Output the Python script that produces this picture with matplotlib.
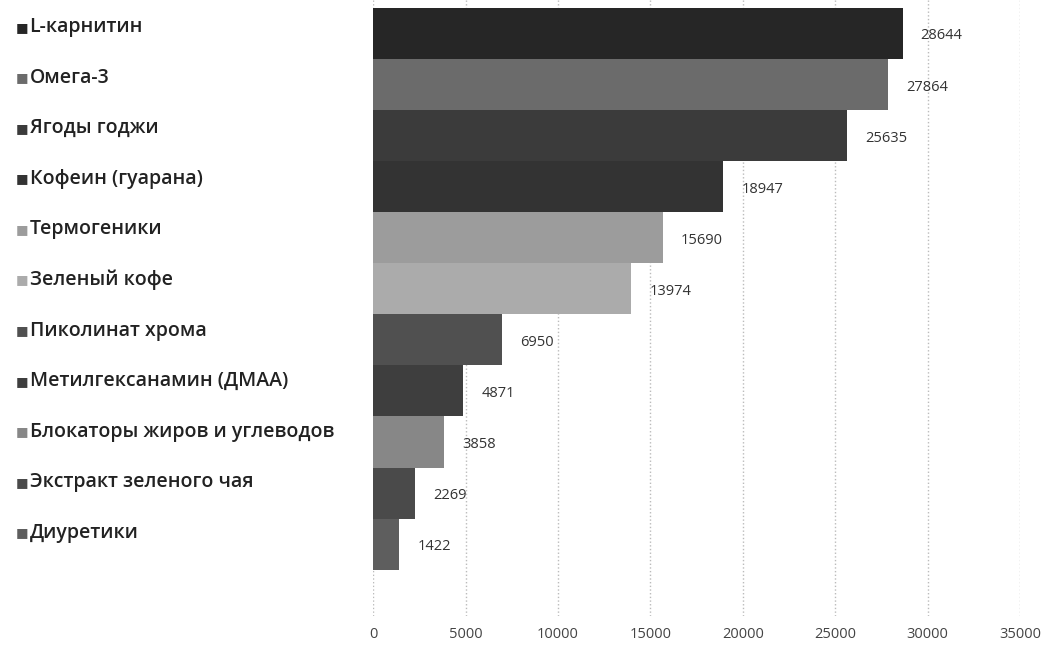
import matplotlib
matplotlib.use('Agg')
import matplotlib.pyplot as plt
from matplotlib.transforms import blended_transform_factory

# данные сверху вниз, как на картинке
categories = ['L-карнитин', 'Омега-3', 'Ягоды годжи', 'Кофеин (гуарана)',
              'Термогеники', 'Зеленый кофе', 'Пиколинат хрома',
              'Метилгексанамин (ДМАА)', 'Блокаторы жиров и углеводов',
              'Экстракт зеленого чая', 'Диуретики']
values = [28644, 27864, 25635, 18947, 15690, 13974, 6950, 4871, 3858, 2269, 1422]
colors = ['#262626', '#6b6b6b', '#3b3b3b', '#333333', '#9c9c9c', '#ababab',
          '#505050', '#3e3e3e', '#878787', '#4a4a4a', '#5e5e5e']
xticks = [0, 5000, 10000, 15000, 20000, 25000, 30000, 35000]

plt.rcParams['font.family'] = ['Open Sans', 'DejaVu Sans']

fig = plt.figure(figsize=(10.57, 6.55), dpi=100)
ax = fig.add_axes([0.353, 0.06, 0.612, 0.94])

n = len(categories)
ypos = [n - 1 - i for i in range(n)]
ax.barh(ypos, values, height=1.0, color=colors, edgecolor='none', zorder=2)

for y, v in zip(ypos, values):
    ax.annotate(str(v), (v, y), xytext=(13, -2), textcoords='offset points',
                ha='left', va='center', fontsize=10.5, color='#333333')

ax.set_xlim(0, 35000)
ax.set_ylim(-1.4, 10.65)
ax.set_xticks(xticks)
ax.set_xticklabels([str(t) for t in xticks], fontsize=10.5, color='#444444')
ax.set_yticks([])
ax.tick_params(axis='x', length=0, pad=8)
ax.grid(axis='x', linestyle=':', color='#bbbbbb', linewidth=1, zorder=0)
for s in ax.spines.values():
    s.set_visible(False)

# подписи слева с квадратиками (шаг чуть меньше, чем у столбцов)
tr = blended_transform_factory(fig.transFigure, ax.transData)
for y, name, c in zip(ypos, categories, colors):
    yy = y + 0.12 + 0.01 * (n - 1 - y)
    ax.text(0.015, yy, '■', transform=tr, fontsize=9.5, color=c,
            va='center', ha='left', family=['DejaVu Sans'])
    ax.text(0.028, yy, name, transform=tr, fontsize=14, color='#222222',
            va='center', ha='left', fontweight='semibold')

fig.savefig('out.png', dpi=100)
